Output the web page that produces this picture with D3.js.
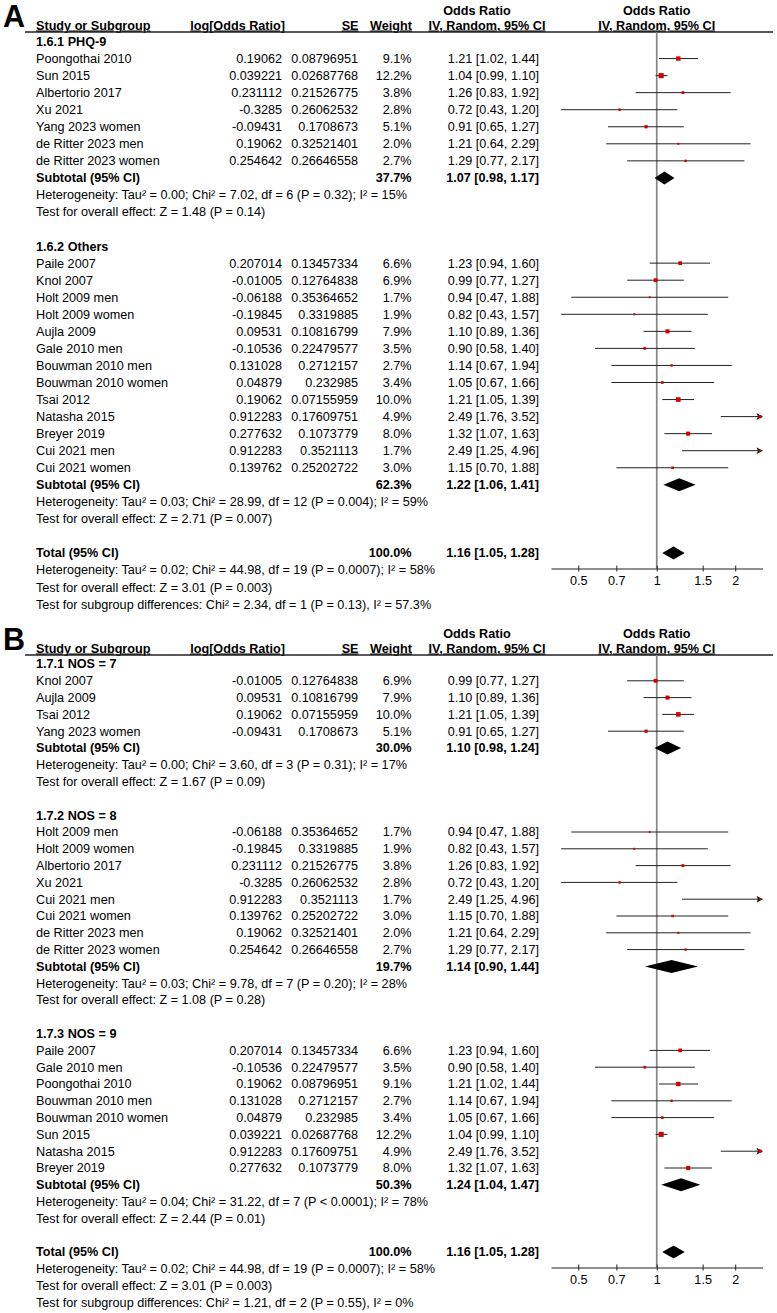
<!DOCTYPE html>
<html>
<head>
<meta charset="utf-8">
<script src="https://cdn.jsdelivr.net/npm/d3@7"></script>
<style>
  body { margin: 0; background: #fff; }
  text { font-family: "Liberation Sans", Arial, sans-serif; font-size: 12.65px; fill: #000; }
</style>
</head>
<body>
<div id="chart"></div>
<script>
// all studies (same weights in both analyses)
const studies = ["Poongothai 2010", "Sun 2015", "Albertorio 2017", "Xu 2021", "Yang 2023 women",
  "de Ritter 2023 men", "de Ritter 2023 women", "Paile 2007", "Knol 2007", "Holt 2009 men",
  "Holt 2009 women", "Aujla 2009", "Gale 2010 men", "Bouwman 2010 men", "Bouwman 2010 women",
  "Tsai 2012", "Natasha 2015", "Breyer 2019", "Cui 2021 men", "Cui 2021 women"];
const logOR = [0.19062, 0.039221, 0.231112, -0.3285, -0.09431, 0.19062, 0.254642, 0.207014, -0.01005, -0.06188,
  -0.19845, 0.09531, -0.10536, 0.131028, 0.04879, 0.19062, 0.912283, 0.277632, 0.912283, 0.139762];
const seVals = [0.08796951, 0.02687768, 0.21526775, 0.26062532, 0.1708673, 0.32521401, 0.26646558, 0.13457334, 0.12764838, 0.35364652,
  0.3319885, 0.10816799, 0.22479577, 0.2712157, 0.232985, 0.07155959, 0.17609751, 0.1073779, 0.3521113, 0.25202722];
const weights = [9.1, 12.2, 3.8, 2.8, 5.1, 2.0, 2.7, 6.6, 6.9, 1.7, 1.9, 7.9, 3.5, 2.7, 3.4, 10.0, 4.9, 8.0, 1.7, 3.0];
const orVals = [1.21, 1.04, 1.26, 0.72, 0.91, 1.21, 1.29, 1.23, 0.99, 0.94, 0.82, 1.10, 0.90, 1.14, 1.05, 1.21, 2.49, 1.32, 2.49, 1.15];
const ciLow = [1.02, 0.99, 0.83, 0.43, 0.65, 0.64, 0.77, 0.94, 0.77, 0.47, 0.43, 0.89, 0.58, 0.67, 0.67, 1.05, 1.76, 1.07, 1.25, 0.70];
const ciHigh = [1.44, 1.10, 1.92, 1.20, 1.27, 2.29, 2.17, 1.60, 1.27, 1.88, 1.57, 1.36, 1.40, 1.94, 1.66, 1.39, 3.52, 1.63, 4.96, 1.88];

// panel A subgroups
const subLabelsA = ["1.6.1 PHQ-9", "1.6.2 Others"];
const membersA = [
  ["Poongothai 2010", "Sun 2015", "Albertorio 2017", "Xu 2021", "Yang 2023 women", "de Ritter 2023 men", "de Ritter 2023 women"],
  ["Paile 2007", "Knol 2007", "Holt 2009 men", "Holt 2009 women", "Aujla 2009", "Gale 2010 men", "Bouwman 2010 men",
   "Bouwman 2010 women", "Tsai 2012", "Natasha 2015", "Breyer 2019", "Cui 2021 men", "Cui 2021 women"]
];
const subWeightA = [37.7, 62.3];
const subOrA = [1.07, 1.22];
const subLowA = [0.98, 1.06];
const subHighA = [1.17, 1.41];
const hetA = ["Heterogeneity: Tau² = 0.00; Chi² = 7.02, df = 6 (P = 0.32); I² = 15%",
  "Heterogeneity: Tau² = 0.03; Chi² = 28.99, df = 12 (P = 0.004); I² = 59%"];
const testA = ["Test for overall effect: Z = 1.48 (P = 0.14)", "Test for overall effect: Z = 2.71 (P = 0.007)"];
const subgroupTestA = "Test for subgroup differences: Chi² = 2.34, df = 1 (P = 0.13), I² = 57.3%";

// panel B subgroups
const subLabelsB = ["1.7.1 NOS = 7", "1.7.2 NOS = 8", "1.7.3 NOS = 9"];
const membersB = [
  ["Knol 2007", "Aujla 2009", "Tsai 2012", "Yang 2023 women"],
  ["Holt 2009 men", "Holt 2009 women", "Albertorio 2017", "Xu 2021", "Cui 2021 men", "Cui 2021 women",
   "de Ritter 2023 men", "de Ritter 2023 women"],
  ["Paile 2007", "Gale 2010 men", "Poongothai 2010", "Bouwman 2010 men", "Bouwman 2010 women", "Sun 2015",
   "Natasha 2015", "Breyer 2019"]
];
const subWeightB = [30.0, 19.7, 50.3];
const subOrB = [1.10, 1.14, 1.24];
const subLowB = [0.98, 0.90, 1.04];
const subHighB = [1.24, 1.44, 1.47];
const hetB = ["Heterogeneity: Tau² = 0.00; Chi² = 3.60, df = 3 (P = 0.31); I² = 17%",
  "Heterogeneity: Tau² = 0.03; Chi² = 9.78, df = 7 (P = 0.20); I² = 28%",
  "Heterogeneity: Tau² = 0.04; Chi² = 31.22, df = 7 (P < 0.0001); I² = 78%"];
const testB = ["Test for overall effect: Z = 1.67 (P = 0.09)", "Test for overall effect: Z = 1.08 (P = 0.28)",
  "Test for overall effect: Z = 2.44 (P = 0.01)"];
const subgroupTestB = "Test for subgroup differences: Chi² = 1.21, df = 2 (P = 0.55), I² = 0%";

// overall
const totalOr = 1.16, totalLow = 1.05, totalHigh = 1.28;
const totalHet = "Heterogeneity: Tau² = 0.02; Chi² = 44.98, df = 19 (P = 0.0007); I² = 58%";
const totalTest = "Test for overall effect: Z = 3.01 (P = 0.003)";
const axisTicks = [0.5, 0.7, 1, 1.5, 2];

const svg = d3.select("#chart").append("svg")
  .attr("width", 777)
  .attr("height", 1313);

// log scale of the forest plot
const x = d3.scaleLog().domain([0.393, 2.545]).range([551, 762.5]);
const fmt2 = d3.format(".2f");
const fmt1 = d3.format(".1f");
const ciText = (o, l, h) => `${fmt2(o)} [${fmt2(l)}, ${fmt2(h)}]`;

function drawPanel(p) {
  const g = svg.append("g");

  // build the rows
  const rows = [];
  p.members.forEach((m, gi) => {
    rows.push({ kind: "head", label: p.labels[gi] });
    m.forEach(n => rows.push({ kind: "study", i: studies.indexOf(n) }));
    rows.push({ kind: "sub", label: "Subtotal (95% CI)", w: p.subW[gi], or: p.subOr[gi], lo: p.subLo[gi], hi: p.subHi[gi] });
    rows.push({ kind: "note", text: p.het[gi] });
    rows.push({ kind: "note", text: p.test[gi] });
    rows.push({ kind: "blank" });
  });
  rows.push({ kind: "sub", label: "Total (95% CI)", w: 100, or: totalOr, lo: totalLow, hi: totalHigh, total: true });
  rows.push({ kind: "note", text: totalHet });
  rows.push({ kind: "note", text: totalTest });
  rows.push({ kind: "note", text: p.subgroupTest });

  const y = d3.scaleLinear()
    .domain([0, rows.length - 1])
    .range([p.row0, p.row0 + (rows.length - 1) * p.step]);

  // panel letter
  g.append("text")
    .attr("x", 3).attr("y", p.letterY)
    .style("font-size", "30.5px").style("font-weight", "bold")
    .text(p.letter);

  // column headers
  const hdr = [
    { t: "Study or Subgroup", x: 36, a: "start", y: p.headY, u: true },
    { t: "log[Odds Ratio]", x: 285, a: "end", y: p.headY, u: true },
    { t: "SE", x: 358.5, a: "end", y: p.headY, u: true },
    { t: "Weight", x: 412, a: "end", y: p.headY, u: true },
    { t: "Odds Ratio", x: 477, a: "middle", y: p.headY - 15 },
    { t: "IV, Random, 95% CI", x: 487, a: "middle", y: p.headY, u: true },
    { t: "Odds Ratio", x: x(1), a: "middle", y: p.headY - 15 },
    { t: "IV, Random, 95% CI", x: x(1), a: "middle", y: p.headY, u: true }
  ];
  g.selectAll(".hdr").data(hdr).enter().append("text")
    .attr("x", d => d.x).attr("y", d => d.y)
    .attr("text-anchor", d => d.a)
    .style("font-weight", "bold")
    .style("text-decoration", d => d.u ? "underline" : null)
    .text(d => d.t);

  g.append("line")
    .attr("x1", 25).attr("x2", 773)
    .attr("y1", p.ruleY).attr("y2", p.ruleY)
    .attr("stroke", "#222").attr("stroke-width", 1.3);

  const totalIdx = rows.findIndex(r => r.total);
  const axisY = y(totalIdx) + 15.5;

  // line of no effect
  g.append("line")
    .attr("x1", x(1)).attr("x2", x(1))
    .attr("y1", p.ruleY).attr("y2", axisY)
    .attr("stroke", "#858585").attr("stroke-width", 1.7);

  rows.forEach((r, ri) => {
    const yy = y(ri);
    if (r.kind === "head") {
      g.append("text").attr("x", 36).attr("y", yy).attr("dy", "0.35em")
        .style("font-weight", "bold").text(r.label);
    } else if (r.kind === "note") {
      g.append("text").attr("x", 36).attr("y", yy).attr("dy", "0.35em").text(r.text);
    } else if (r.kind === "study") {
      const i = r.i;
      const cells = [
        { t: studies[i], x: 36, a: "start" },
        { t: String(logOR[i]), x: 282, a: "end" },
        { t: String(seVals[i]), x: 358, a: "end" },
        { t: fmt1(weights[i]) + "%", x: 411.5, a: "end" },
        { t: ciText(orVals[i], ciLow[i], ciHigh[i]), x: 539, a: "end" }
      ];
      cells.forEach(c => g.append("text").attr("x", c.x).attr("y", yy).attr("dy", "0.35em")
        .attr("text-anchor", c.a).text(c.t));

      const [d0, d1] = x.domain();
      const lo = Math.max(ciLow[i], d0), hi = Math.min(ciHigh[i], d1);
      g.append("line")
        .attr("x1", x(lo)).attr("x2", x(hi))
        .attr("y1", yy).attr("y2", yy)
        .attr("stroke", "#222").attr("stroke-width", 1);
      if (ciHigh[i] > d1) {
        const tip = x(d1);
        g.append("path")
          .attr("d", `M${tip},${yy} L${tip - 6},${yy - 3.5} L${tip - 4.5},${yy} L${tip - 6},${yy + 3.5} Z`)
          .attr("fill", "#111");
      }
      const s = 1.45 * Math.sqrt(weights[i]);
      g.append("rect")
        .attr("x", x(orVals[i]) - s / 2).attr("y", yy - s / 2)
        .attr("width", s).attr("height", s)
        .attr("fill", "#d40000");
    } else if (r.kind === "sub") {
      g.append("text").attr("x", 36).attr("y", yy).attr("dy", "0.35em")
        .style("font-weight", "bold").text(r.label);
      g.append("text").attr("x", 411.5).attr("y", yy).attr("dy", "0.35em")
        .attr("text-anchor", "end").style("font-weight", "bold").text(fmt1(r.w) + "%");
      g.append("text").attr("x", 539).attr("y", yy).attr("dy", "0.35em")
        .attr("text-anchor", "end").style("font-weight", "bold").text(ciText(r.or, r.lo, r.hi));
      const h = 6.5;
      g.append("path")
        .attr("d", `M${x(r.lo)},${yy} L${x(r.or)},${yy - h} L${x(r.hi)},${yy} L${x(r.or)},${yy + h} Z`)
        .attr("fill", "#000");
    }
  });

  // axis
  const ax = g.append("g")
    .attr("transform", `translate(0,${axisY})`)
    .call(d3.axisBottom(x).tickValues(axisTicks).tickFormat(d => String(d)).tickSizeOuter(0).tickSizeInner(3));
  ax.select(".domain").attr("stroke", "#222");
  ax.selectAll(".tick line").attr("y1", -3).attr("y2", 3).attr("stroke", "#222");
  ax.selectAll(".tick text").attr("y", 8);
}

drawPanel({
  letter: "A", letterY: 27, headY: 29.5, ruleY: 32, row0: 41.5, step: 17.05,
  labels: subLabelsA, members: membersA, subW: subWeightA, subOr: subOrA, subLo: subLowA, subHi: subHighA,
  het: hetA, test: testA, subgroupTest: subgroupTestA
});

drawPanel({
  letter: "B", letterY: 650, headY: 652.5, ruleY: 655, row0: 664, step: 16.8,
  labels: subLabelsB, members: membersB, subW: subWeightB, subOr: subOrB, subLo: subLowB, subHi: subHighB,
  het: hetB, test: testB, subgroupTest: subgroupTestB
});
</script>
</body>
</html>
